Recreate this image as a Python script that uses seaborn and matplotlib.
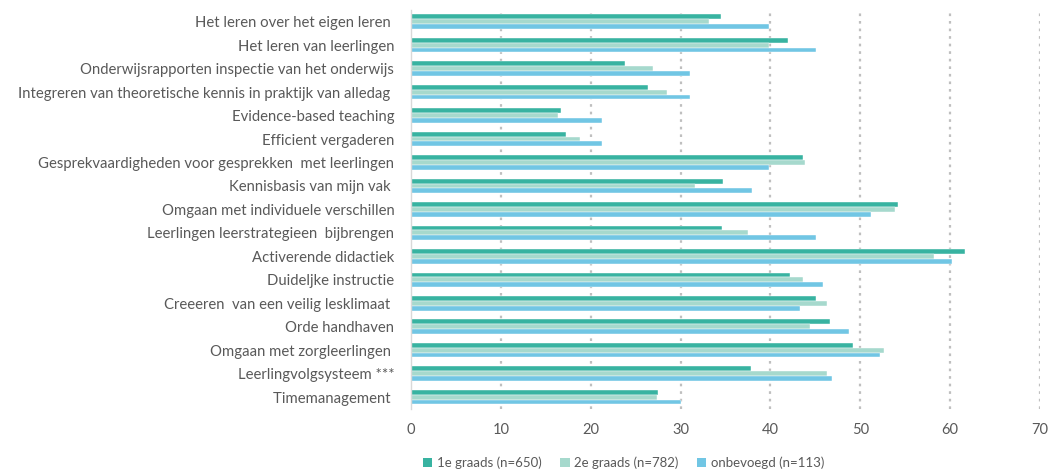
import matplotlib
matplotlib.use("Agg")
import matplotlib.pyplot as plt
import seaborn as sns
import pandas as pd
from matplotlib.patches import Patch

categories = [
    "Het leren over het eigen leren ",
    "Het leren van leerlingen",
    "Onderwijsrapporten inspectie van het onderwijs",
    "Integreren van theoretische kennis in praktijk van alledag ",
    "Evidence-based teaching",
    "Efficient vergaderen",
    "Gesprekvaardigheden voor gesprekken  met leerlingen",
    "Kennisbasis van mijn vak ",
    "Omgaan met individuele verschillen",
    "Leerlingen leerstrategieen  bijbrengen",
    "Activerende didactiek",
    "Duideljke instructie",
    "Creeeren  van een veilig lesklimaat ",
    "Orde handhaven",
    "Omgaan met zorgleerlingen ",
    "Leerlingvolgsysteem ***",
    "Timemanagement ",
]
series = ["1e graads (n=650)", "2e graads (n=782)", "onbevoegd (n=113)"]
eerste = [34.5, 42.0, 23.8, 26.4, 16.7, 17.2, 43.6, 34.7, 54.2, 34.6, 61.6, 42.2, 45.1, 46.6, 49.2, 37.8, 27.5]
tweede = [33.2, 39.8, 26.9, 28.5, 16.4, 18.8, 43.8, 31.6, 53.9, 37.5, 58.2, 43.6, 46.3, 44.4, 52.6, 46.3, 27.4]
onbevoegd = [39.8, 45.1, 31.0, 31.0, 21.3, 21.3, 39.8, 38.0, 51.2, 45.1, 60.2, 45.9, 43.3, 48.7, 52.2, 46.9, 30.0]
xticks = [0, 10, 20, 30, 40, 50, 60, 70]
colors = ["#38B3A1", "#A6D9CD", "#71C6E4"]

rows = []
for s, vals in zip(series, [eerste, tweede, onbevoegd]):
    for c, v in zip(categories, vals):
        rows.append({"cat": c, "serie": s, "val": v})
df = pd.DataFrame(rows)

sns.set_theme(style="white")
plt.rcParams["font.family"] = ["Lato", "DejaVu Sans"]

fig = plt.figure(figsize=(10.5, 4.76), dpi=100)
ax = fig.add_axes([0.3914, 0.141, 0.5991, 0.838])
sns.barplot(data=df, y="cat", x="val", hue="serie", order=categories,
            hue_order=series, palette=colors, orient="h", width=0.62,
            ax=ax, legend=False, edgecolor="white", linewidth=0.3, saturation=1)

ax.set_xlim(0, 70)
ax.set_xticks(xticks)
ax.set_xticklabels([str(t) for t in xticks])
ax.set_xlabel("")
ax.set_ylabel("")
for t in xticks[1:]:
    ax.axvline(t, color="#BFBFBF", linestyle=(0, (1.2, 2.2)), linewidth=1.6, zorder=0)
for sp in ["top", "right", "bottom"]:
    ax.spines[sp].set_visible(False)
ax.spines["left"].set_color("#D9D9D9")
ax.spines["left"].set_linewidth(1.0)
ax.tick_params(axis="both", length=0, colors="#595959")
ax.tick_params(axis="y", labelsize=10.7, pad=12)
ax.tick_params(axis="x", labelsize=10.5, pad=10)
for lab in ax.get_yticklabels() + ax.get_xticklabels():
    lab.set_color("#595959")

handles = [Patch(facecolor=c, edgecolor="none") for c in colors]
fig.legend(handles, series, loc="center", bbox_to_anchor=(0.594, 0.027), ncol=3,
           frameon=False, fontsize=9.5, handlelength=0.7, handleheight=0.7,
           handletextpad=0.35, columnspacing=1.4, labelcolor="#595959")

fig.savefig("out.png", dpi=100)
